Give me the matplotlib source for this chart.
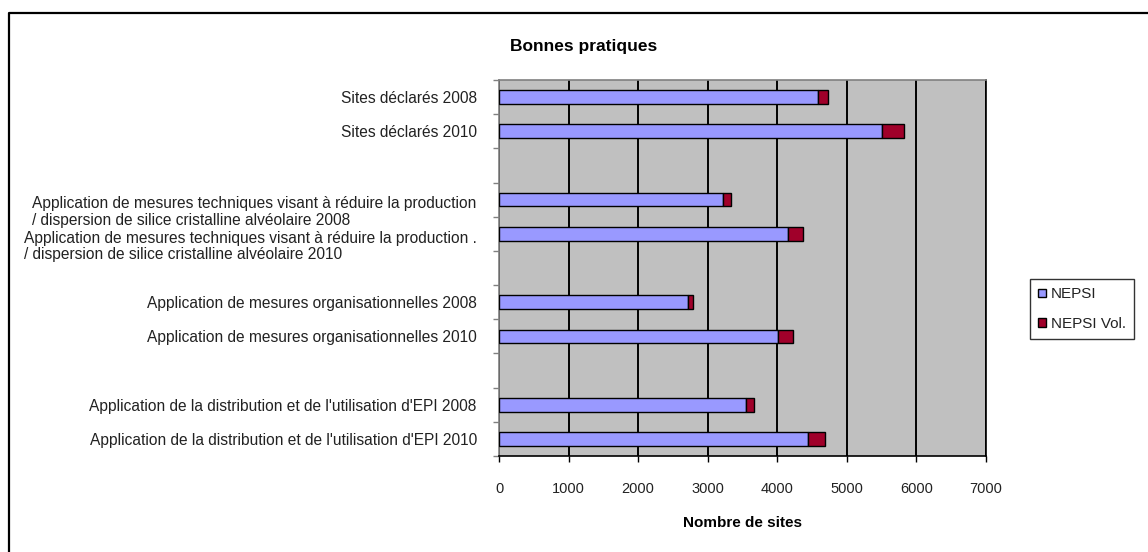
import matplotlib
matplotlib.use("Agg")
import matplotlib.pyplot as plt
from matplotlib.patches import Patch
from matplotlib.lines import Line2D
import numpy as np

plt.rcParams['font.family'] = ['Liberation Sans', 'DejaVu Sans']

categories = [
    "Sites déclarés 2008",
    "Sites déclarés 2010",
    "Application de mesures techniques visant à réduire la production\n/ dispersion de silice cristalline alvéolaire 2008",
    "Application de mesures techniques visant à réduire la production .\n/ dispersion de silice cristalline alvéolaire 2010",
    "Application de mesures organisationnelles 2008",
    "Application de mesures organisationnelles 2010",
    "Application de la distribution et de l'utilisation d'EPI 2008",
    "Application de la distribution et de l'utilisation d'EPI 2010",
]
nepsi = [4590, 5510, 3220, 4160, 2710, 4005, 3550, 4440]
nepsi_vol = [140, 310, 110, 210, 85, 215, 110, 245]
series_names = ["NEPSI", "NEPSI Vol."]
x_ticks = [0, 1000, 2000, 3000, 4000, 5000, 6000, 7000]

col_blue = "#9999FF"
col_red = "#A0002A"
text_col = "#222222"

fig = plt.figure(figsize=(11.48, 5.52), dpi=100)
W, H = 1148, 552
ax = fig.add_axes([499 / W, 1 - 456 / H, (986 - 499) / W, (456 - 80) / H])
ax.set_facecolor("#C0C0C0")

# two bars per group, one empty slot between groups
pos = np.array([i + i // 2 for i in range(len(categories))])
nslots = pos.max() + 1

ax.barh(pos, nepsi, height=0.4, color=col_blue, edgecolor="black", linewidth=1.0, zorder=3)
ax.barh(pos, nepsi_vol, left=nepsi, height=0.4, color=col_red, edgecolor="black", linewidth=1.0, zorder=3)

ax.set_xlim(0, 7000)
ax.set_ylim(nslots - 0.5, -0.5)
ax.set_xticks(x_ticks)
ax.set_xticklabels([str(v) for v in x_ticks], fontsize=10.5, color=text_col)
ax.tick_params(axis='x', direction='out', length=4, width=1, color='black', pad=15)
ax.grid(axis='x', color='black', linewidth=1.4, zorder=1)
ax.set_axisbelow(True)

# two-line labels sit slightly below their bar, as in the original
label_pos = [p + (0.3 if "\n" in c else 0.0) for p, c in zip(pos, categories)]
ax.set_yticks(label_pos)
labels = ax.set_yticklabels(categories, fontsize=11.2, color=text_col)
for t in labels:
    t.set_multialignment('left')
    t.set_linespacing(1.1)
ax.tick_params(axis='y', which='major', length=0, pad=16)
ax.set_yticks(np.arange(-0.5, nslots, 1.0), minor=True)
ax.tick_params(axis='y', which='minor', direction='out', length=4, width=1, color='#808080')

ax.spines['left'].set_color('#808080')
ax.spines['top'].set_color('#808080')
ax.spines['bottom'].set_color('black')
ax.spines['right'].set_color('black')
for s in ax.spines.values():
    s.set_linewidth(1.2)

ax.set_xlabel("Nombre de sites", fontsize=11, fontweight='bold', labelpad=14, color='black')

fig.text(584 / W, 1 - 47 / H, "Bonnes pratiques", ha='center', va='center',
         fontsize=12.5, fontweight='bold')

handles = [Patch(facecolor=col_blue, edgecolor='black', linewidth=1.0),
           Patch(facecolor=col_red, edgecolor='black', linewidth=1.0)]
leg = fig.legend(handles, series_names, loc='center left',
                 bbox_to_anchor=(1030 / W, 1 - 309 / H), frameon=True,
                 fancybox=False, edgecolor='black', fontsize=11,
                 handlelength=0.5, handleheight=0.5, handletextpad=0.3,
                 labelspacing=1.0, borderpad=0.55, borderaxespad=0)
leg.get_frame().set_linewidth(1.0)
for t in leg.get_texts():
    t.set_color(text_col)

# outer chart frame (left and top edges visible)
fig.add_artist(Line2D([9 / W, 9 / W, 1.0], [0.0, 1 - 13 / H, 1 - 13 / H],
                      transform=fig.transFigure, color='black', linewidth=1.6))

fig.savefig("out.png", dpi=100)
